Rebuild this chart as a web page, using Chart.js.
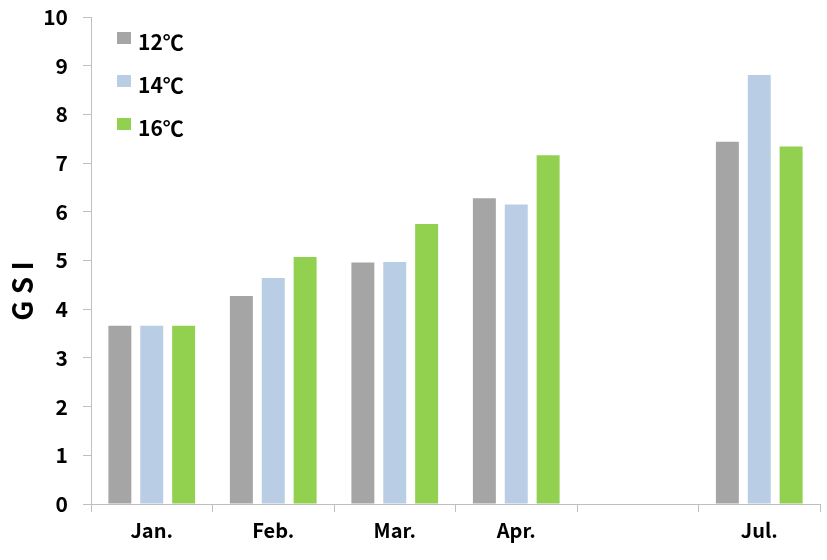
<!DOCTYPE html>
<html>
<head>
<meta charset="utf-8">
<script src="https://cdn.jsdelivr.net/npm/chart.js@4"></script>
<style>
  html, body { margin: 0; padding: 0; background: #fff; }
  #wrap { width: 827px; height: 560px; }
</style>
</head>
<body>
<div id="wrap"><canvas id="grafica" width="827" height="560"></canvas></div>
<script>
const meses = ['Jan.', 'Feb.', 'Mar.', 'Apr.', '', 'Jul.'];
const serie12 = [3.66, 4.27, 4.96, 6.28, null, 7.44];
const serie14 = [3.66, 4.64, 4.97, 6.15, null, 8.81];
const serie16 = [3.66, 5.07, 5.75, 7.16, null, 7.34];
const etiquetasY = [0, 1, 2, 3, 4, 5, 6, 7, 8, 9, 10];

const fuente = '"Noto Sans CJK KR", "Noto Sans", sans-serif';
const gris = '#bfbfbf';

// leyenda dentro del área del gráfico + título del eje Y
const leyendaInterna = {
  id: 'leyendaInterna',
  afterDraw(chart) {
    const ctx = chart.ctx;
    ctx.save();
    chart.data.datasets.forEach((ds, i) => {
      const y = 32 + i * 43;
      ctx.fillStyle = ds.backgroundColor;
      ctx.fillRect(117, y, 14, 12);
      ctx.fillStyle = '#000';
      ctx.font = '600 21px ' + fuente;
      ctx.textBaseline = 'middle';
      ctx.textAlign = 'left';
      ctx.fillText(ds.label, 138, y + 10);
    });
    ctx.translate(22, 291);
    ctx.rotate(-Math.PI / 2);
    ctx.font = 'bold 28px ' + fuente;
    ctx.textAlign = 'center';
    ctx.textBaseline = 'middle';
    ctx.fillText('G S I', 0, 0);
    ctx.restore();
  }
};

new Chart(document.getElementById('grafica'), {
  type: 'bar',
  data: {
    labels: meses,
    datasets: [
      { label: '12℃', data: serie12, backgroundColor: '#a5a5a5' },
      { label: '14℃', data: serie14, backgroundColor: '#b9cde5' },
      { label: '16℃', data: serie16, backgroundColor: '#92d050' }
    ]
  },
  options: {
    responsive: false,
    animation: false,
    categoryPercentage: 0.787,
    barPercentage: 0.72,
    layout: { padding: { top: 17, right: 7, left: 0, bottom: 0 } },
    plugins: {
      legend: { display: false },
      tooltip: { enabled: false }
    },
    scales: {
      x: {
        offset: true,
        grid: { offset: true, drawOnChartArea: false, color: gris, tickLength: 8 },
        border: { color: gris, width: 1 },
        ticks: {
          color: '#000',
          font: { family: fuente, size: 20, weight: 'bold' },
          padding: 6,
          maxRotation: 0
        },
        afterFit(scale) {
          scale.height = 56;
          scale.paddingLeft = 0;
          scale.paddingRight = 0;
        }
      },
      y: {
        min: 0,
        max: 10,
        afterBuildTicks(scale) { scale.ticks = etiquetasY.map(v => ({ value: v })); },
        grid: { drawOnChartArea: false, color: gris, tickLength: 8 },
        border: { color: gris, width: 1 },
        ticks: {
          color: '#000',
          font: { family: fuente, size: 21, weight: 'bold' },
          padding: 15
        },
        afterFit(scale) {
          scale.width = 91;
          scale.paddingTop = 0;
          scale.paddingBottom = 0;
        }
      }
    }
  },
  plugins: [leyendaInterna]
});
</script>
</body>
</html>
